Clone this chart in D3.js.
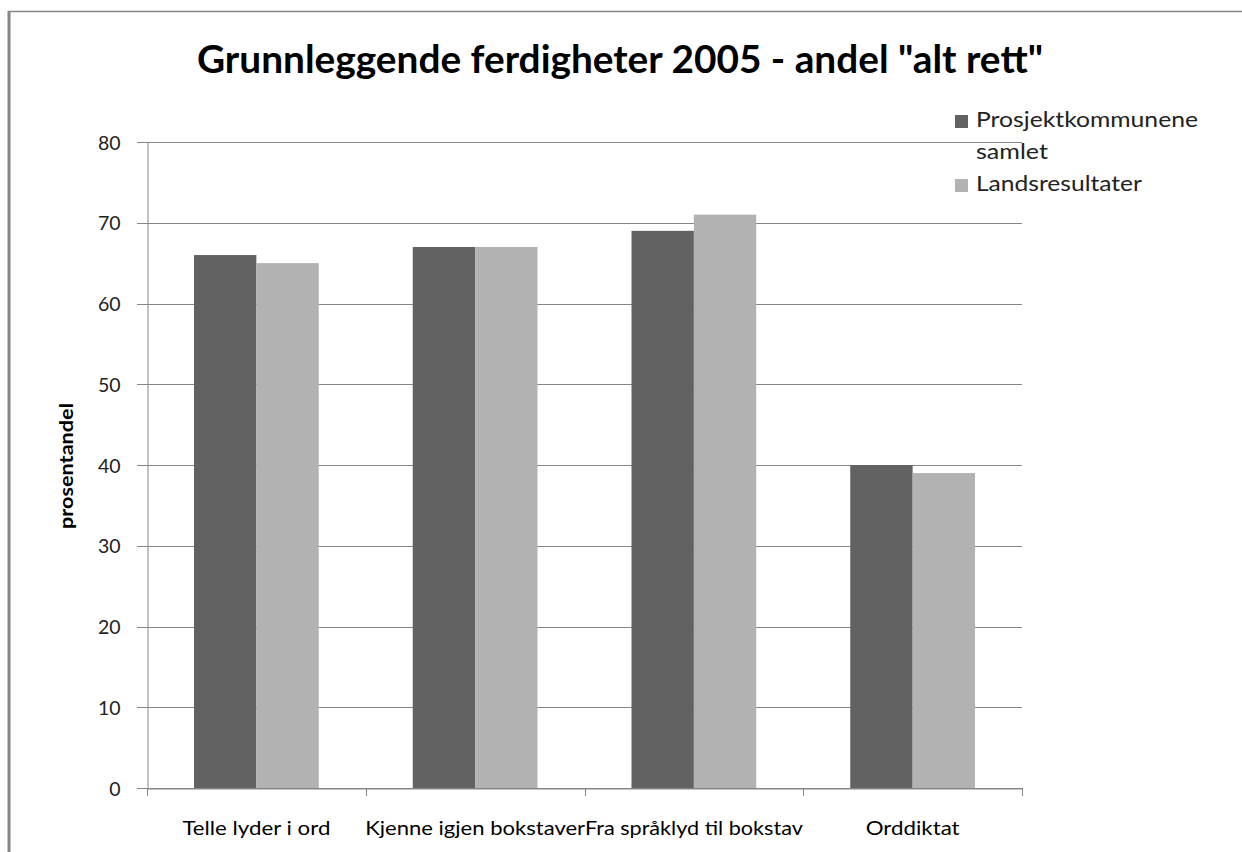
<!DOCTYPE html>
<html><head><meta charset="utf-8">
<script src="https://cdn.jsdelivr.net/npm/d3@7"></script>
<style>body{margin:0;background:#fff;} svg{display:block;font-family:Lato,"Open Sans",sans-serif;}</style>
</head><body>
<script>
const categories = ["Telle lyder i ord","Kjenne igjen bokstaver","Fra språklyd til bokstav","Orddiktat"];
const seriesNames = ["Prosjektkommunene samlet","Landsresultater"];
const prosjekt = [66,67,69,40];
const lands = [65,67,71,39];
const yTicks = [0,10,20,30,40,50,60,70,80];
const colors = ["#626262","#b2b2b2"];
const catLabelWidths = [148,220,218,94];

const W=1242,H=852;
const svg=d3.select("body").append("svg").attr("width",W).attr("height",H);
svg.append("rect").attr("x",0).attr("y",0).attr("width",W).attr("height",H).attr("fill","#fff");
svg.append("line").attr("x1",9).attr("x2",9).attr("y1",11).attr("y2",H).attr("stroke","#868686").attr("stroke-width",3);
svg.append("line").attr("x1",8).attr("x2",W).attr("y1",11.5).attr("y2",11.5).attr("stroke","#868686").attr("stroke-width",1.5);

const L=147,R=1022,T=142,B=788;
const x0=d3.scaleBand().domain(categories).range([L,R]).padding(0);
const x1=d3.scaleBand().domain(seriesNames).range([47,x0.bandwidth()-47]).padding(0);
const y=d3.scaleLinear().domain([0,80]).range([B,T]);

svg.append("g").selectAll("line").data(yTicks).join("line")
 .attr("x1",L-10).attr("x2",R).attr("y1",d=>Math.round(y(d))+0.5).attr("y2",d=>Math.round(y(d))+0.5)
 .attr("stroke","#868686").attr("stroke-width",1);

const yAxis=svg.append("g").attr("transform",`translate(${L+0.5},0)`)
 .call(d3.axisLeft(y).tickValues(yTicks).tickSize(0).tickPadding(27));
yAxis.attr("font-family",null).attr("font-size",null);
yAxis.select(".domain").attr("stroke","#868686");
yAxis.selectAll("text").attr("font-size",19.5).attr("fill","#222").attr("dy","0.36em");

const series=[prosjekt,lands];
categories.forEach((c,i)=>{
  seriesNames.forEach((s,j)=>{
    svg.append("rect").attr("x",x0(c)+x1(s)).attr("width",x1.bandwidth())
      .attr("y",y(series[j][i])).attr("height",B-y(series[j][i])).attr("fill",colors[j]);
  });
});

const xAxis=svg.append("g").attr("transform",`translate(0,${B+0.5})`)
 .call(d3.axisBottom(x0).tickSize(0).tickFormat(""));
xAxis.select(".domain").attr("stroke","#868686");
const edges=[L,...categories.map(c=>x0(c)+x0.bandwidth())];
svg.append("g").selectAll("line").data(edges).join("line")
 .attr("x1",d=>Math.round(d)+0.5).attr("x2",d=>Math.round(d)+0.5).attr("y1",B).attr("y2",B+8)
 .attr("stroke","#868686");
svg.append("g").selectAll("text").data(categories).join("text")
 .attr("x",d=>x0(d)+x0.bandwidth()/2).attr("y",835).attr("text-anchor","middle")
 .attr("font-size",20).attr("fill","#000")
 .attr("textLength",(d,i)=>catLabelWidths[i]).attr("lengthAdjust","spacingAndGlyphs").text(d=>d);

svg.append("text").attr("transform","translate(73,466) rotate(-90)").attr("text-anchor","middle")
 .attr("font-size",19).attr("font-weight","bold").attr("textLength",126).attr("lengthAdjust","spacingAndGlyphs")
 .text("prosentandel");

svg.append("text").attr("x",620).attr("y",72.5).attr("text-anchor","middle")
 .attr("font-size",37.5).attr("font-weight","bold").attr("fill","#000")
 .attr("textLength",846).attr("lengthAdjust","spacingAndGlyphs")
 .text('Grunnleggende ferdigheter 2005 - andel "alt rett"');

const leg=[{lines:["Prosjektkommunene","samlet"],w:[222,72],y:127},{lines:["Landsresultater"],w:[166],y:191}];
leg.forEach((d,i)=>{
  svg.append("rect").attr("x",955).attr("y",d.y-12).attr("width",13).attr("height",13).attr("fill",colors[i]);
  d.lines.forEach((t,k)=>{
    svg.append("text").attr("x",976).attr("y",d.y+k*31.5).attr("font-size",21).attr("fill","#222")
      .attr("textLength",d.w[k]).attr("lengthAdjust","spacingAndGlyphs").text(t);
  });
});
</script>
</body></html>
